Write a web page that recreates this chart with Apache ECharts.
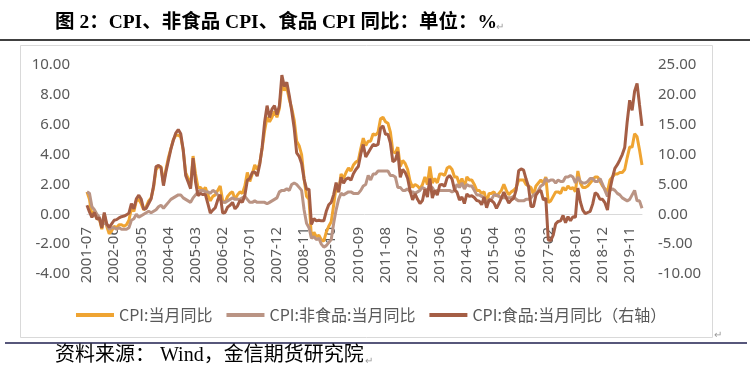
<!DOCTYPE html>
<html>
<head>
<meta charset="utf-8">
<script src="https://cdn.jsdelivr.net/npm/echarts@6/dist/echarts.min.js"></script>
<style>html,body{margin:0;padding:0;background:#fff;}#c{width:750px;height:380px;}</style>
</head>
<body>
<div id="c"></div>
<script>
// Monthly categories: 2001-07 .. 2020-04
const startYear = 2001, startMonth = 7, monthCount = 226;
const categories = [];
for (let i = 0; i < monthCount; i++) {
  const m = startMonth - 1 + i;
  const y = startYear + Math.floor(m / 12);
  const mm = (m % 12) + 1;
  categories.push(y + '-' + (mm < 10 ? '0' + mm : mm));
}
const labelStep = 11; // one tick label every 11 months

const seriesNames = ['CPI:当月同比', 'CPI:非食品:当月同比', 'CPI:食品:当月同比（右轴）'];

// CPI YoY (left axis)
const cpi = [
  1.5, 1.0, -0.1, 0.2, -0.3, -0.3,
  -1.0, 0.0, -0.8, -1.3, -1.1, -0.8, -0.9, -0.7, -0.7, -0.8, -0.7, -0.4,
  0.4, 0.2, 0.9, 1.0, 0.7, 0.3, 0.5, 0.9, 1.1, 1.8, 3.0, 3.2,
  3.2, 2.1, 3.0, 3.8, 4.4, 5.0, 5.3, 5.3, 5.2, 4.3, 2.8, 2.4,
  1.9, 3.9, 2.7, 1.8, 1.8, 1.6, 1.8, 1.3, 0.9, 1.2, 1.3, 1.6,
  1.9, 0.9, 0.8, 1.2, 1.4, 1.5, 1.0, 1.3, 1.5, 1.4, 1.9, 2.8,
  2.2, 2.7, 3.3, 3.0, 3.4, 4.4, 5.6, 6.5, 6.2, 6.5, 6.9, 6.5,
  7.1, 8.7, 8.3, 8.5, 7.7, 7.1, 6.3, 4.9, 4.6, 4.0, 2.4, 1.2,
  1.0, -1.6, -1.2, -1.5, -1.4, -1.7, -1.8, -1.2, -0.8, -0.5, 0.6, 1.9,
  1.5, 2.7, 2.4, 2.8, 3.1, 2.9, 3.3, 3.5, 3.6, 4.4, 5.1, 4.6,
  4.9, 4.9, 5.4, 5.3, 5.5, 6.4, 6.5, 6.2, 6.1, 5.5, 4.2, 4.1,
  4.5, 3.2, 3.6, 3.4, 3.0, 2.2, 1.8, 2.0, 1.9, 1.7, 2.0, 2.5,
  2.0, 3.2, 2.1, 2.4, 2.1, 2.7, 2.7, 2.6, 3.1, 3.2, 3.0, 2.5,
  2.5, 2.0, 2.4, 1.8, 2.5, 2.3, 2.3, 2.0, 1.6, 1.6, 1.4, 1.5,
  0.8, 1.4, 1.4, 1.5, 1.2, 1.4, 1.6, 2.0, 1.6, 1.3, 1.5, 1.6,
  1.8, 2.3, 2.3, 2.3, 2.0, 1.9, 1.8, 1.3, 1.9, 2.1, 2.3, 2.1,
  2.5, 0.8, 0.9, 1.2, 1.5, 1.5, 1.4, 1.8, 1.6, 1.9, 1.7, 1.8,
  1.5, 2.9, 2.1, 1.8, 1.8, 1.9, 2.1, 2.3, 2.5, 2.5, 2.2, 1.9,
  1.7, 1.5, 2.3, 2.5, 2.7, 2.7, 2.8, 2.8, 3.0, 3.8, 4.5, 4.5,
  5.4, 5.2, 4.3, 3.3
];

// Non-food CPI YoY (left axis)
const nonFood = [
  1.5, 1.4, 0.5, 0.3, 0.0, -0.2,
  -0.6, -0.6, -0.7, -1.0, -0.9, -0.9, -1.0, -0.9, -1.0, -1.0, -1.0, -0.9,
  -0.4, -0.3, 0.0, -0.2, -0.1, 0.0, 0.1, 0.2, 0.1, 0.2, 0.3, 0.5,
  0.6, 0.4, 0.6, 0.8, 1.0, 1.1, 1.2, 1.3, 1.3, 1.1, 1.0, 0.9,
  0.8, 1.1, 1.3, 1.5, 1.6, 1.6, 1.5, 1.5, 1.4, 1.6, 1.5, 1.3,
  1.0, 0.8, 0.8, 0.9, 1.0, 1.1, 1.0, 1.0, 1.0, 1.1, 1.2, 1.0,
  0.8, 0.8, 0.9, 0.8, 0.8, 0.8, 0.8, 0.7, 0.8, 0.9, 1.0, 1.1,
  1.5, 1.6, 1.6, 1.7, 1.6, 2.0, 2.1, 2.0, 1.8, 1.6, 0.3, -0.6,
  -0.9, -1.6, -1.5, -1.7, -1.6, -2.0, -2.2, -2.1, -1.9, -1.7, -0.6, 0.3,
  1.0, 1.4, 1.3, 1.4, 1.5, 1.5, 1.4, 1.4, 1.4, 1.6, 1.9, 2.0,
  2.6, 2.3, 2.7, 2.7, 2.9, 2.9, 2.9, 2.9, 2.9, 2.6, 2.6, 2.5,
  1.8, 1.8, 1.6, 1.6, 1.7, 1.5, 1.5, 1.4, 1.5, 1.6, 1.8, 1.7,
  1.6, 1.8, 1.8, 1.5, 1.6, 1.6, 1.6, 1.6, 1.6, 1.6, 1.5, 1.6,
  2.0, 1.8, 2.1, 1.7, 2.0, 1.9, 1.9, 1.6, 1.3, 1.3, 1.2, 1.1,
  0.7, 1.0, 1.0, 1.3, 1.3, 1.2, 1.1, 1.1, 1.1, 1.1, 1.1, 1.2,
  1.0, 0.9, 0.9, 0.9, 1.0, 1.0, 1.1, 1.3, 1.4, 1.6, 1.9, 2.0,
  2.4, 2.2, 2.3, 2.3, 2.1, 2.3, 2.2, 2.2, 2.5, 2.5, 2.6, 2.5,
  2.1, 2.5, 2.2, 2.1, 2.1, 2.2, 2.4, 2.4, 2.2, 2.2, 2.4, 2.0,
  1.6, 1.2, 1.6, 1.7, 1.6, 1.4, 1.3, 1.1, 1.0, 0.9, 1.0, 1.3,
  1.6, 0.9, 0.9, 0.4
];

// Food CPI YoY (right axis)
const food = [
  1.5, 0.4, -0.5, 0.3, -0.8, -0.6,
  -2.3, 0.3, -1.6, -2.2, -1.6, -1.0, -0.9, -0.6, -0.4, -0.3, -0.1, 0.2,
  1.8, 0.9, 2.6, 3.2, 2.5, 0.8, 1.0, 1.8, 2.6, 4.8, 8.0, 8.2,
  7.8, 4.8, 7.1, 9.0, 10.9, 12.4, 13.6, 14.2, 13.5, 10.8, 6.5, 5.4,
  4.3, 9.4, 5.4, 3.1, 3.5, 3.3, 3.3, 1.8, 0.2, 0.7, 1.1, 2.4,
  3.3, 0.2, 0.3, 1.2, 1.5, 2.0, 0.9, 1.4, 2.3, 2.0, 3.2, 5.7,
  6.0, 7.0, 7.1, 6.4, 8.3, 11.2, 15.4, 18.2, 16.2, 17.6, 18.2, 16.7,
  18.2, 23.3, 21.4, 22.1, 19.9, 17.3, 14.4, 10.3, 9.7, 8.5, 5.9, 4.2,
  4.2, -1.7, -0.7, -1.1, -1.0, -1.1, -1.1, 0.5, 1.6, 2.0, 3.3, 5.3,
  3.7, 6.2, 5.2, 5.9, 6.1, 5.7, 6.8, 7.5, 8.0, 10.1, 11.7, 9.6,
  10.3, 11.0, 11.7, 11.5, 11.7, 14.4, 14.8, 13.4, 13.4, 11.9, 8.8, 9.1,
  10.5, 6.2, 7.5, 7.0, 6.0, 3.9, 2.4, 3.4, 2.5, 1.8, 2.3, 4.2,
  2.9, 6.0, 2.7, 4.0, 3.2, 4.9, 5.0, 4.7, 6.1, 6.5, 5.9, 4.1,
  3.7, 2.4, 2.9, 1.8, 3.4, 3.0, 3.1, 2.8, 2.3, 2.2, 1.6, 2.9,
  1.1, 2.4, 2.3, 1.9, 1.0, 1.8, 2.7, 3.7, 2.7, 1.9, 2.4, 2.7,
  4.1, 7.3, 7.6, 7.4, 5.9, 4.6, 1.3, 1.3, 3.2, 3.8, 4.0, 2.4,
  2.7, -4.3, -4.4, -3.5, -1.6, -1.2, -1.1, -0.2, -1.4, -0.4, -1.1, -0.4,
  -0.5, 4.4, 2.1, 0.7, 0.1, 0.3, 0.5, 1.7, 3.6, 3.3, 2.5, 2.5,
  1.9, 0.7, 4.1, 6.1, 7.7, 8.3, 9.1, 10.0, 11.2, 15.5, 19.1, 17.4,
  20.6, 21.9, 18.3, 14.8
];

const leftTicks = { min: -4, max: 10, interval: 2 };
const rightTicks = { min: -10, max: 25, interval: 5 };

const colors = ['#EFA432', '#BA9484', '#A55E45'];
const axisFont = 'Noto Sans, Liberation Sans, sans-serif';
const cjkFont = 'Noto Sans CJK SC, Noto Sans, sans-serif';
const serifFont = 'Liberation Serif, Noto Sans CJK SC, serif';

// grid geometry: zero line sits 60px above grid bottom (10/14 of 209px height)
const gridTop = 65, gridBottom = 106, gridHeight = 380 - gridTop - gridBottom;
const zeroOffset = -Math.round(gridHeight * (0 - leftTicks.min) / (leftTicks.max - leftTicks.min));

const chart = echarts.init(document.getElementById('c'), null, { renderer: 'canvas' });
chart.setOption({
  animation: false,
  backgroundColor: '#fff',
  color: colors,
  grid: { left: 87, right: 108, top: gridTop, bottom: gridBottom, containLabel: false },
  legend: {
    left: 71, top: 302,
    icon: 'rect', itemWidth: 38, itemHeight: 4, itemGap: 14,
    textStyle: { color: '#595959', fontSize: 16, fontFamily: cjkFont },
    data: seriesNames
  },
  xAxis: [
    {
      type: 'category', data: categories, boundaryGap: false,
      axisLine: { onZero: true, lineStyle: { color: '#D9D9D9', width: 1 } },
      axisTick: { show: false },
      splitLine: { show: false },
      axisLabel: { show: false }
    },
    {
      type: 'category', data: categories, boundaryGap: false, position: 'bottom',
      offset: zeroOffset,
      axisLine: { show: false, onZero: false },
      axisTick: { show: false },
      splitLine: { show: false },
      axisLabel: {
        interval: (idx) => idx % labelStep === 0, rotate: 90, margin: 13, color: '#595959',
        fontSize: 15, fontFamily: axisFont
      }
    }
  ],
  yAxis: [
    {
      type: 'value', min: leftTicks.min, max: leftTicks.max, interval: leftTicks.interval,
      axisLine: { show: false }, axisTick: { show: false }, splitLine: { show: false },
      axisLabel: { margin: 17, color: '#595959', fontSize: 15, fontFamily: axisFont,
        formatter: v => v.toFixed(2) }
    },
    {
      type: 'value', min: rightTicks.min, max: rightTicks.max, interval: rightTicks.interval,
      position: 'right',
      axisLine: { show: false }, axisTick: { show: false }, splitLine: { show: false },
      axisLabel: { margin: 16, color: '#595959', fontSize: 15, fontFamily: axisFont,
        formatter: v => v.toFixed(2) }
    }
  ],
  series: [
    { name: seriesNames[0], type: 'line', data: cpi, xAxisIndex: 0, yAxisIndex: 0, showSymbol: false,
      lineStyle: { width: 3, color: colors[0] } },
    { name: seriesNames[1], type: 'line', data: nonFood, xAxisIndex: 0, yAxisIndex: 0, showSymbol: false,
      lineStyle: { width: 3, color: colors[1] } },
    { name: seriesNames[2], type: 'line', data: food, xAxisIndex: 0, yAxisIndex: 1, showSymbol: false,
      lineStyle: { width: 3, color: colors[2] } }
  ],
  graphic: [
    { type: 'text', left: 55, top: 13, style: { text: '图 2：CPI、非食品 CPI、食品 CPI 同比：单位：%',
        font: 'bold 19.5px ' + serifFont, fill: '#000' } },
    { type: 'text', left: 496, top: 21, style: { text: '↵', font: '10px ' + cjkFont, fill: '#999' } },
    { type: 'line', shape: { x1: 0, y1: 40, x2: 750, y2: 40 }, style: { stroke: '#000', lineWidth: 1.5 } },
    { type: 'rect', shape: { x: 20.5, y: 45.5, width: 692, height: 292 }, style: { fill: 'none', stroke: '#D9D9D9', lineWidth: 1 } },
    { type: 'text', left: 714, top: 329, style: { text: '↵', font: '10px ' + cjkFont, fill: '#999' } },
    { type: 'line', shape: { x1: 5, y1: 343, x2: 747, y2: 343 }, style: { stroke: '#1F1F4F', lineWidth: 1.5 } },
    { type: 'text', left: 55, top: 346, style: { text: '资料来源： Wind，金信期货研究院',
        font: '20px ' + serifFont, fill: '#000' } },
    { type: 'text', left: 365, top: 355, style: { text: '↵', font: '10px ' + cjkFont, fill: '#999' } }
  ]
});
</script>
</body>
</html>
